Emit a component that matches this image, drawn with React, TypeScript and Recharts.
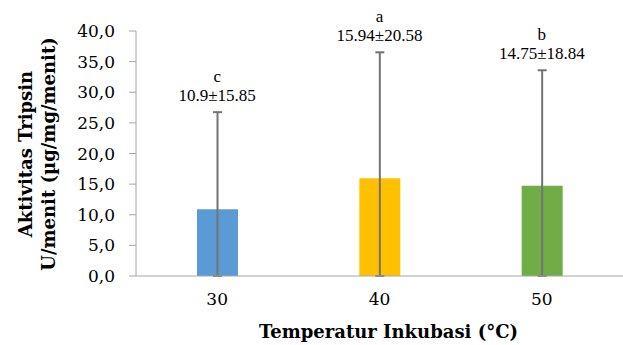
import React from 'react';
import { ComposedChart, Bar, Line, XAxis, YAxis, ErrorBar, LabelList, Cell } from 'recharts';

// Trypsin activity by incubation temperature
const temperatures = ['30', '40', '50'];
const means = [10.9, 15.94, 14.75];
const errors = [15.85, 20.58, 18.84];
const letters = ['c', 'a', 'b'];
const yTicks = [0, 5, 10, 15, 20, 25, 30, 35, 40];

const COLORS = ['#5B9BD5', '#FFC000', '#70AD47'];
const AXIS_COLOR = '#a6a6a6';
const ERR_COLOR = '#737373';
const FONT = 'DejaVu Serif';
const LABEL_FONT = 'Liberation Serif';

const data = temperatures.map((t, i) => ({
  temp: t,
  mean: means[i],
  // lower arm is cut off at the axis, like in the original
  err: [Math.min(means[i], errors[i]), errors[i]],
  top: means[i] + errors[i],
  label: `${means[i]}±${errors[i]}`,
}));

const TopLabel = (props: any) => {
  const { x, y, index } = props;
  return (
    <g fontFamily={LABEL_FONT} fontSize={17} fill="#000">
      <text x={x} y={y - 30} textAnchor="middle">
        {letters[index]}
      </text>
      <text x={x} y={y - 11} textAnchor="middle">
        {data[index].label}
      </text>
    </g>
  );
};

const YTitle = () => (
  <g fontFamily={FONT} fontSize={18} fontWeight="bold" fill="#000">
    <text x={32} y={154} textAnchor="middle" transform="rotate(-90, 32, 154)">
      Aktivitas Tripsin
    </text>
    <text x={55} y={154} textAnchor="middle" transform="rotate(-90, 55, 154)">
      U/menit (µg/mg/menit)
    </text>
  </g>
);

const XTitle = (props: any) => {
  const { viewBox } = props;
  const cx = viewBox.x + viewBox.width / 2 + 9;
  return (
    <text x={cx} y={338} textAnchor="middle" fontFamily={FONT} fontSize={18} fontWeight="bold" fill="#000">
      Temperatur Inkubasi (°C)
    </text>
  );
};

const fmt = (v: number) => v.toFixed(1).replace('.', ',');

export default function App() {
  return (
    <div style={{ position: 'absolute', left: 0, top: 0, background: '#fff' }}>
      <ComposedChart width={623} height={345} data={data} margin={{ top: 31, right: 0, bottom: 0, left: 0 }}>
        <XAxis
          dataKey="temp"
          height={69}
          tickLine={false}
          axisLine={{ stroke: AXIS_COLOR }}
          tickMargin={11}
          tick={{ fontFamily: FONT, fontSize: 17, fill: '#000' }}
          label={<XTitle />}
        />
        <YAxis
          type="number"
          domain={[0, 40]}
          ticks={yTicks}
          interval={0}
          width={136}
          tickFormatter={fmt}
          tickSize={7}
          tickMargin={14}
          tickLine={{ stroke: AXIS_COLOR }}
          axisLine={{ stroke: AXIS_COLOR }}
          tick={{ fontFamily: FONT, fontSize: 17, fill: '#000' }}
        />
        <Bar dataKey="mean" barSize={41} isAnimationActive={false}>
          {data.map((entry, index) => (
            <Cell key={`cell-${index}`} fill={COLORS[index % COLORS.length]} />
          ))}
          <ErrorBar dataKey="err" direction="y" width={4.5} stroke={ERR_COLOR} strokeWidth={2} />
        </Bar>
        <Line
          dataKey="top"
          stroke="none"
          dot={false}
          activeDot={false}
          legendType="none"
          isAnimationActive={false}
        >
          <LabelList dataKey="label" content={<TopLabel />} />
        </Line>
        <YTitle />
      </ComposedChart>
    </div>
  );
}
